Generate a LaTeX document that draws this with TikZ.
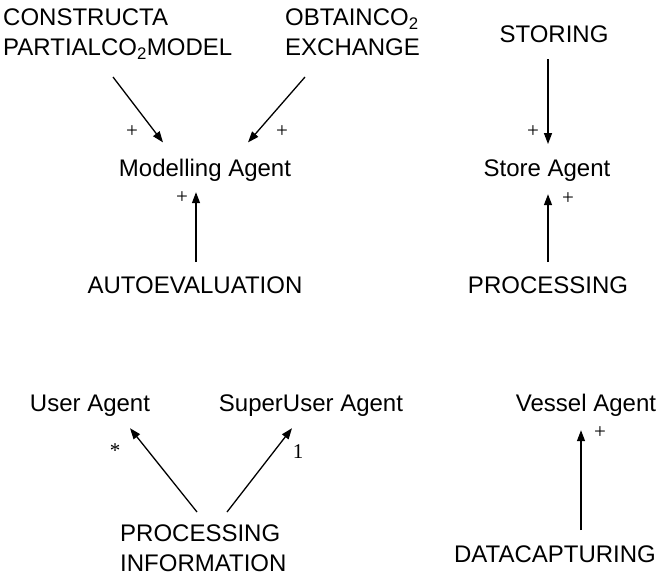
\documentclass[tikz,border=0pt]{standalone}
\usepackage{fontspec}
\setmainfont{Liberation Sans}
\newfontfamily\serifmark{Liberation Serif}
\usetikzlibrary{arrows.meta,calc}
\begin{document}
\begin{tikzpicture}[x=1pt,y=-1pt,
  lbl/.style={font=\fontsize{24}{30}\selectfont, inner sep=0pt, text=black},
  mul/.style={font=\serifmark\fontsize{21}{24}\selectfont, inner sep=0pt, text=black},
  arr/.style={-{Triangle[length=11pt,width=8pt]}, line width=1.3pt, draw=black}]
\useasboundingbox (0,0) rectangle (668,576);

% upper left group
\node[lbl, anchor=north west, align=left] (cp) at (3,9) {CONSTRUCTA\\PARTIALCO\textsubscript{2}MODEL};
\node[lbl, anchor=north west, align=left] (ob) at (285,9) {OBTAINCO\textsubscript{2}\\EXCHANGE};
\node[lbl, anchor=base] (ma) at (205,176) {Modelling Agent};
\node[lbl, anchor=base] (ae) at (195,293) {AUTOEVALUATION};

\draw[arr] ([shift={(110,68)}]cp.north west) -- ([shift={(-42,-16)}]ma.north);
\draw[arr] ([shift={(20,68)}]ob.north west) -- ([shift={(43,-16)}]ma.north);
\draw[arr] ([shift={(1,-14)}]ae.north) -- ([shift={(-9,11)}]ma.south);

\node[mul] (p1) at (132,132) {+};
\node[mul] (p2) at (282,132) {+};
\node[mul] (p3) at (182,198) {+};

% upper right group
\node[lbl, anchor=base] (st) at (554,42) {STORING};
\node[lbl, anchor=base] (sa) at (547,176) {Store Agent};
\node[lbl, anchor=base] (pr) at (548,293) {PROCESSING};

\draw[arr] ([shift={(-6,17)}]st.south) -- ([shift={(1,-15)}]sa.north);
\draw[arr] ([shift={(0,-14)}]pr.north) -- ([shift={(1,13)}]sa.south);

\node[mul] (p4) at (533,132) {+};
\node[mul] (p5) at (568,199) {+};

% lower left group
\node[lbl, anchor=base] (ua) at (90,411) {User Agent};
\node[lbl, anchor=base] (su) at (311,411) {SuperUser Agent};
\node[lbl, anchor=north west, align=left] (pi) at (120,525) {PROCESSING\\INFORMATION};

\draw[arr] ([shift={(77,-13)}]pi.north west) -- ([shift={(40,12)}]ua.south);
\draw[arr] ([shift={(107,-13)}]pi.north west) -- ([shift={(-19,12)}]su.south);

\node[mul] (m1) at (115,451) {*};
\node[mul] (m2) at (298,452) {1};

% lower right group
\node[lbl, anchor=base] (va) at (586,411) {Vessel Agent};
\node[lbl, anchor=base] (dc) at (555,562) {DATACAPTURING};

\draw[arr] ([shift={(26,-15)}]dc.north) -- ([shift={(-5,14)}]va.south);

\node[mul] (p6) at (600,433) {+};
\end{tikzpicture}
\end{document}
